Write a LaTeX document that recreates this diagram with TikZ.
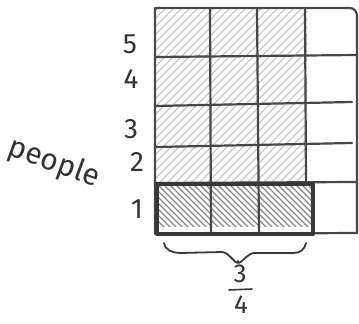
\documentclass[tikz,border=0pt]{standalone}
\usepackage{fontspec}
\setmainfont{Fira Sans}
\begin{document}
\begin{tikzpicture}[x=1pt,y=-1pt, line cap=round, line join=round,
  gridline/.style={draw=black!72, line width=2.2pt},
  boxline/.style={draw=black!78, line width=4pt},
  hatchlight/.style={draw=black!28, line width=0.9pt},
  hatchdark/.style={draw=black!48, line width=1.4pt},
  lab/.style={font=\fontsize{28}{30}\selectfont, text=black!80, inner sep=0pt},
  fraclab/.style={font=\fontsize{26}{28}\selectfont, text=black!80, inner sep=0pt}]
\useasboundingbox (0,0) rectangle (359,324);
% light hatching, rows 2-5, columns 1-3
\begin{scope}
  \clip (155,8) rectangle (307,183);
  \foreach \a in {-40,-32,...,320} \draw[hatchlight] (\a,190) -- (\a+190,0);
\end{scope}
% dark hatching, row 1, columns 1-3
\begin{scope}
  \clip (157,185) rectangle (312,226);
  \foreach \a in {100,106,...,320} \draw[hatchdark] (\a,175) -- (\a+60,235);
\end{scope}
% grid
\draw[gridline] (155,233) -- (155,8) -- (350,8) to[out=0,in=90] (357,16) -- (357,233);
\draw[gridline] (155,57) -- (357,55);
\draw[gridline] (155,106) -- (352,102);
\draw[gridline] (155,147) -- (352,143);
\draw[gridline] (155,183) -- (357,182);
\draw[gridline] (155,234) -- (357,233);
\draw[gridline] (210,8) -- (211,234);
\draw[gridline] (257,8) -- (259,234);
\draw[gridline] (305,8) -- (306,183);
% highlighted row
\draw[boxline] (157,184) rectangle (313,234);
% row labels
\node[lab] (n5) at (130,44) {5};
\node[lab] (n4) at (131,79) {4};
\node[lab] (n3) at (131,129) {3};
\node[lab] (n2) at (137,162) {2};
\node[lab] (n1) at (137,209) {1};
\node[lab, font=\fontsize{30}{32}\selectfont, rotate=-20] (people) at (54,163) {people};
% brace
\draw[draw=black!78, line width=1.8pt] (164,243) to[out=-80,in=180] (180,253) -- (222,252) to[out=0,in=-90] (238,261)
  to[out=-90,in=180] (254,253) -- (294,253) to[out=0,in=-100] (306,243);
% fraction
\node[fraclab] (num) at (240,274) {3};
\draw[draw=black!78, line width=1.6pt] (229,290) -- (252,289);
\node[fraclab] (den) at (241,305) {4};
\end{tikzpicture}
\end{document}
